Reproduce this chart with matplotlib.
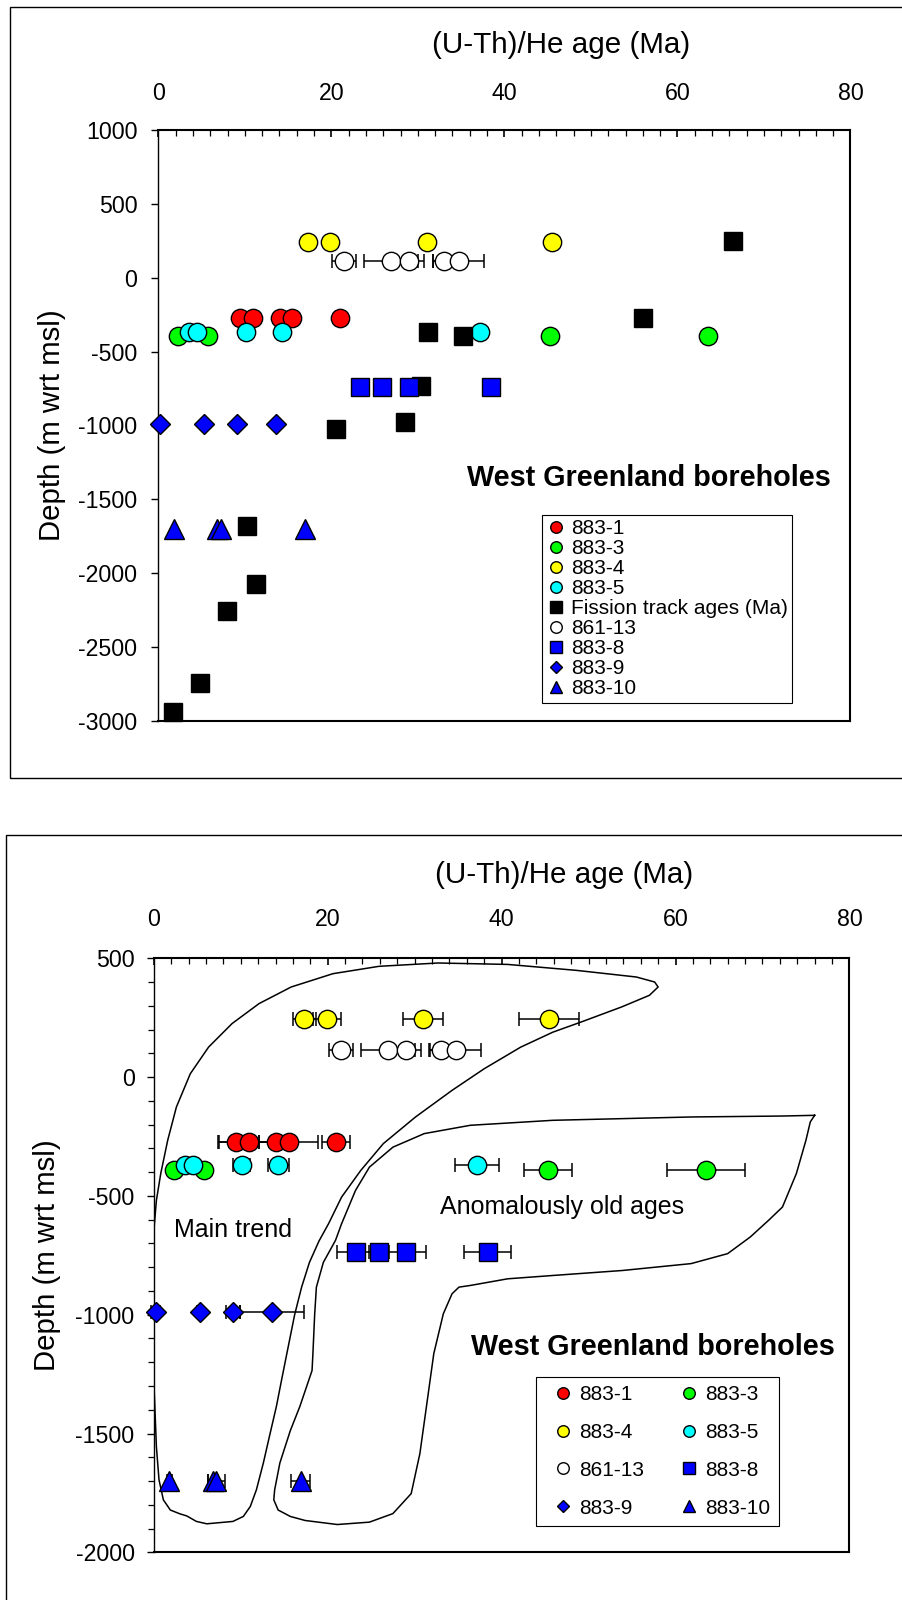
import matplotlib
matplotlib.use("Agg")
import matplotlib.pyplot as plt
from matplotlib.ticker import MultipleLocator
from matplotlib.patches import Rectangle

plt.rcParams['font.family'] = ['Liberation Sans', 'DejaVu Sans']
plt.rcParams['axes.unicode_minus'] = False

# ---- data (age Ma, depth m wrt msl) ----
x_8831 = [9.5, 11.0, 14.1, 15.5, 21.0]
e_8831 = [2.0, 3.6, 2.0, 3.4, 1.6]
d_8831 = -272

x_8833 = [2.3, 5.8, 45.3, 63.5]
e_8833 = [0.5, 0.6, 2.75, 4.5]
d_8833 = -392

x_8834 = [17.3, 19.9, 31.0, 45.5]
e_8834 = [1.3, 1.6, 2.3, 3.45]
d_8834 = 245

x_8835 = [3.6, 4.5, 10.1, 14.3, 37.2]
e_8835 = [0.5, 0.5, 1.0, 1.2, 2.55]
d_8835 = -370

x_86113 = [21.5, 26.9, 29.0, 33.0, 34.7]
e_86113 = [1.4, 3.1, 1.7, 1.3, 2.9]
d_86113 = 112

x_8838 = [23.3, 25.9, 29.0, 38.4]
e_8838 = [2.2, 1.2, 2.3, 2.7]
d_8838 = -737

x_8839 = [0.2, 5.3, 9.1, 13.6]
e_8839 = [0.5, 0.3, 0.8, 3.7]
d_8839 = -990

x_88310 = [1.8, 6.8, 7.2, 16.9]
e_88310 = [0.3, 0.6, 1.0, 1.1]
d_88310 = -1700

ft_age = [66.4, 56.0, 31.2, 35.2, 30.4, 28.5, 20.5, 10.2, 11.25, 7.9, 4.8, 1.65]
ft_depth = [252, -272, -367, -392, -730, -978, -1021, -1682, -2074, -2258, -2740, -2936]

# envelope outlines (bottom panel)
main_x = [0.0, 0.0, 0.3, 0.8, 1.6, 2.6, 4.2, 6.3, 9.0, 12.1, 15.8, 20.6, 25.9, 32.7,
          40.7, 48.6, 55.5, 57.6, 58.0, 57.0, 53.8, 49.1, 45.9, 42.2, 38.0, 34.3,
          30.1, 26.4, 23.8, 21.6, 20.1, 19.0, 17.9, 17.0, 16.2, 15.3, 14.7, 14.1,
          13.3, 12.6, 11.8, 11.1, 10.3, 9.1, 6.1, 4.9, 3.8, 3.0, 1.9, 1.1, 0.6, 0.3, 0.0]
main_y = [-1274, -650, -519, -406, -266, -126, 14, 126, 225, 309, 379, 435, 466, 480,
          474, 449, 421, 400, 379, 344, 295, 231, 189, 126, 35, -56,
          -168, -280, -393, -505, -617, -690, -780, -884, -1000, -1164, -1274, -1386,
          -1512, -1624, -1737, -1807, -1849, -1870, -1880, -1870, -1847, -1838, -1822,
          -1779, -1695, -1556, -1274]

old_x = [76.0, 72.3, 61.8, 45.9, 36.4, 31.1, 27.5, 24.8, 23.2, 21.6, 20.9, 19.5, 18.7,
         18.5, 18.3, 18.2, 16.8, 15.7, 14.5, 13.9, 13.8, 14.3, 15.7, 17.4, 21.1, 24.8,
         27.5, 29.6, 30.6, 31.4, 32.2, 33.3, 34.3, 35.1, 36.4, 40.7, 45.9, 53.9, 61.8,
         66.0, 68.6, 70.7, 72.3, 73.9, 75.0, 75.5, 76.0]
old_y = [-161, -164, -168, -182, -203, -238, -295, -379, -477, -617, -687, -780, -884,
         -1000, -1164, -1235, -1386, -1488, -1624, -1737, -1779, -1822, -1849, -1866,
         -1883, -1873, -1837, -1753, -1585, -1375, -1164, -996, -912, -884, -877, -849,
         -835, -814, -785, -743, -673, -603, -547, -406, -266, -189, -161]

series = [
    ("883-1", x_8831, e_8831, d_8831, "o", "#ff0000"),
    ("883-3", x_8833, e_8833, d_8833, "o", "#00ff00"),
    ("883-4", x_8834, e_8834, d_8834, "o", "#ffff00"),
    ("883-5", x_8835, e_8835, d_8835, "o", "#00ffff"),
    ("861-13", x_86113, e_86113, d_86113, "o", "#ffffff"),
    ("883-8", x_8838, e_8838, d_8838, "s", "#0000ff"),
    ("883-9", x_8839, e_8839, d_8839, "D", "#0000ff"),
    ("883-10", x_88310, e_88310, d_88310, "^", "#0000ff"),
]
msize = {"o": 13.2, "s": 13.2, "D": 9.8, "^": 13.9}

fig = plt.figure(figsize=(9.02, 16), dpi=100)
fig.patches.append(Rectangle((0.0111, 0.5139), 1.2, 0.4819, transform=fig.transFigure,
                             fill=False, ec="black", lw=1.0, clip_on=False))
fig.patches.append(Rectangle((0.0063, -0.2), 1.2, 0.6781, transform=fig.transFigure,
                             fill=False, ec="black", lw=1.0, clip_on=False))

ax1 = fig.add_axes([0.1755, 0.549375, 0.7674, 0.369375])
ax2 = fig.add_axes([0.1705, 0.0298, 0.7712, 0.3713])


def style(ax, ymin, ymax, yminor, xpad, ypad):
    ax.set_xlim(0, 80)
    ax.set_ylim(ymin, ymax)
    ax.xaxis.tick_top()
    ax.xaxis.set_major_locator(MultipleLocator(20))
    ax.xaxis.set_minor_locator(MultipleLocator(2))
    ax.yaxis.set_major_locator(MultipleLocator(500))
    if yminor:
        ax.yaxis.set_minor_locator(MultipleLocator(100))
    else:
        ax.yaxis.set_minor_locator(plt.NullLocator())
    ax.tick_params(axis="x", which="major", direction="in", length=4.8, width=1.2,
                   labelsize=16.7, pad=xpad)
    ax.tick_params(axis="x", which="minor", direction="in", length=4.6, width=0.9)
    ax.tick_params(axis="y", which="major", direction="out", length=5.4, width=1.0,
                   labelsize=16.7, pad=ypad)
    ax.tick_params(axis="y", which="minor", direction="out", length=4.0, width=0.9)
    for s in ["top", "right", "bottom"]:
        ax.spines[s].set_linewidth(1.5)
    ax.spines["left"].set_linewidth(1.0)
    ax.set_ylabel("Depth (m wrt msl)", fontsize=21.2)
    ax.yaxis.set_label_coords(-0.134, 0.5)
    ax.xaxis.set_label_position("top")


style(ax1, -3000, 1000, False, 18.1, 9.6)
style(ax2, -2000, 500, True, 19.6, 8.4)
ax1.set_xlabel("(U-Th)/He age (Ma)", fontsize=21.3)
ax1.xaxis.set_label_coords(0.5818, 1.1438)
ax1.xaxis.label.set_va("center")
ax2.set_xlabel("(U-Th)/He age (Ma)", fontsize=21.3)
ax2.xaxis.set_label_coords(0.5897, 1.1394)
ax2.xaxis.label.set_va("center")

# ---- top panel ----
h1 = {}
z = 3
for name, xs, es, d, m, c in series[:4]:
    h1[name], = ax1.plot(xs, [d] * len(xs), ls="none", marker=m, ms=msize[m], mfc=c,
                         mec="black", mew=1.0, clip_on=False, zorder=z, label=name)
    z += 1
h1["ft"], = ax1.plot(ft_age, ft_depth, ls="none", marker="s", ms=13.2, mfc="black",
                     mec="black", mew=1.0, clip_on=False, zorder=z,
                     label="Fission track ages (Ma)")
z += 1
for name, xs, es, d, m, c in series[4:]:
    if name == "861-13":
        ax1.errorbar(xs, [d] * len(xs), xerr=es, fmt="none", ecolor="black",
                     elinewidth=1.1, capsize=4.7, capthick=1.1, zorder=z - 0.5)
    h1[name], = ax1.plot(xs, [d] * len(xs), ls="none", marker=m, ms=msize[m], mfc=c,
                         mec="black", mew=1.0, clip_on=False, zorder=z, label=name)
    z += 1

ax1.text(56.7, -1357, "West Greenland boreholes", fontsize=20.7, fontweight="bold",
         ha="center", va="center")
order1 = ["883-1", "883-3", "883-4", "883-5", "ft", "861-13", "883-8", "883-9", "883-10"]
leg1 = ax1.legend([h1[k] for k in order1], [h1[k].get_label() for k in order1],
                  loc="upper left", bbox_to_anchor=(0.555, 0.3486), borderaxespad=0,
                  fontsize=15, markerscale=0.63, borderpad=0.2, handlelength=0.92,
                  handletextpad=0.26, labelspacing=0.05, fancybox=False,
                  edgecolor="black", framealpha=1)
leg1.get_frame().set_linewidth(0.8)

# ---- bottom panel ----
ax2.plot(main_x, main_y, color="black", lw=1.1, zorder=1)
ax2.plot(old_x, old_y, color="black", lw=1.1, zorder=1)
h2 = {}
z = 3
for name, xs, es, d, m, c in series:
    ax2.errorbar(xs, [d] * len(xs), xerr=es, fmt="none", ecolor="black",
                 elinewidth=1.1, capsize=4.7, capthick=1.1, zorder=z - 0.5, clip_on=False)
    h2[name], = ax2.plot(xs, [d] * len(xs), ls="none", marker=m, ms=msize[m], mfc=c,
                         mec="black", mew=1.0, clip_on=False, zorder=z, label=name)
    z += 1

ax2.text(9.1, -645, "Main trend", fontsize=18, ha="center", va="center")
ax2.text(46.9, -547, "Anomalously old ages", fontsize=18, ha="center", va="center")
ax2.text(57.4, -1136, "West Greenland boreholes", fontsize=20.7, fontweight="bold",
         ha="center", va="center")
order2 = ["883-1", "883-4", "861-13", "883-9", "883-3", "883-5", "883-8", "883-10"]
leg2 = ax2.legend([h2[k] for k in order2], order2, ncol=2,
                  loc="upper left", bbox_to_anchor=(0.5492, 0.2956), borderaxespad=0,
                  fontsize=15, markerscale=0.63, borderpad=0.41, handlelength=1.75,
                  handletextpad=-0.1, labelspacing=0.9, columnspacing=1.3,
                  fancybox=False, edgecolor="black", framealpha=1)
leg2.get_frame().set_linewidth(0.8)

fig.savefig("out.png", dpi=100, facecolor="white")
